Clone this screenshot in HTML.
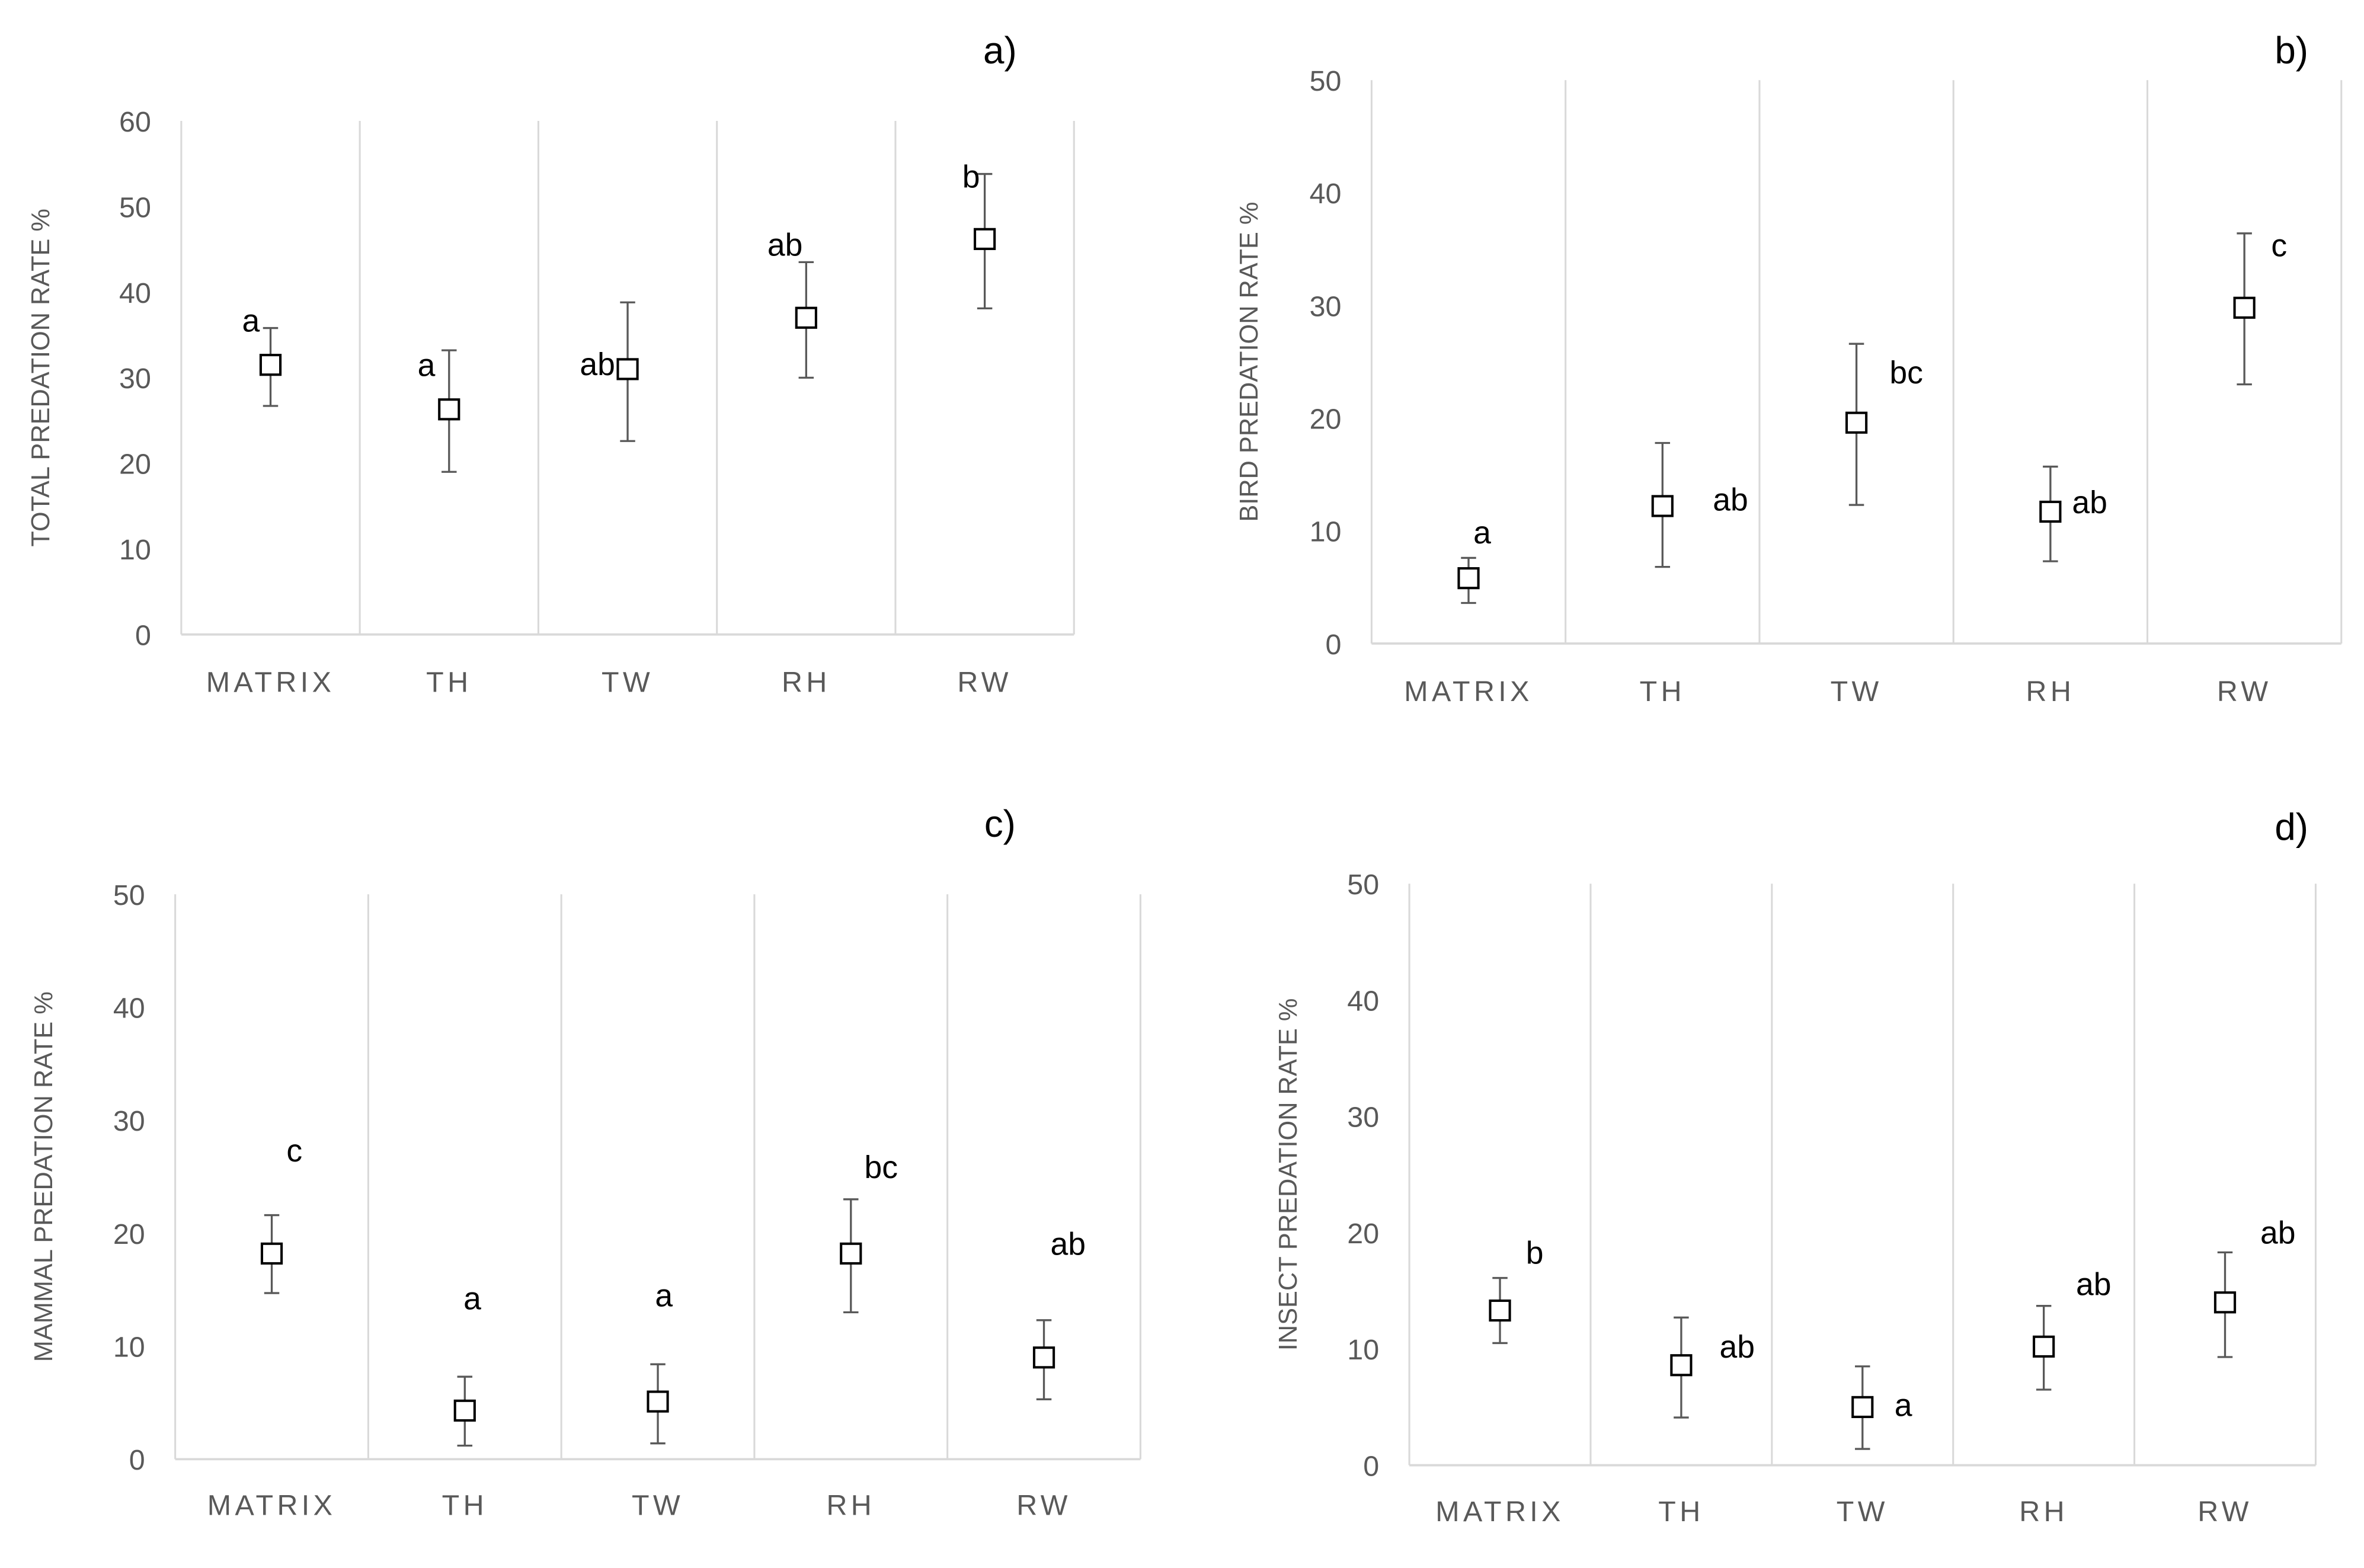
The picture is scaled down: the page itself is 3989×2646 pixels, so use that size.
<!DOCTYPE html>
<html><head><meta charset="utf-8"><style>
html,body{margin:0;padding:0;background:#fff;}
svg{display:block;}
text{font-family:"Liberation Sans",sans-serif;}
</style></head><body>
<svg id="fig" width="3989" height="2646" viewBox="0 0 1565 1038" xmlns="http://www.w3.org/2000/svg"></svg>
<script>
const categories = ["MATRIX","TH","TW","RH","RW"];
const totalMean = [31.5, 26.3, 31, 37, 46.2];
const totalLow  = [26.7, 19, 22.6, 30, 38.1];
const totalHigh = [35.8, 33.2, 38.8, 43.5, 53.8];
const totalLetters = ["a","a","ab","ab","b"];
const birdMean = [5.8, 12.2, 19.6, 11.7, 29.8];
const birdLow  = [3.6, 6.8, 12.3, 7.3, 23];
const birdHigh = [7.6, 17.8, 26.6, 15.7, 36.4];
const birdLetters = ["a","ab","bc","ab","c"];
const mammalMean = [18.2, 4.3, 5.1, 18.2, 9];
const mammalLow  = [14.7, 1.2, 1.4, 13, 5.3];
const mammalHigh = [21.6, 7.3, 8.4, 23, 12.3];
const mammalLetters = ["c","a","a","bc","ab"];
const insectMean = [13.3, 8.6, 5, 10.2, 14];
const insectLow  = [10.5, 4.1, 1.4, 6.5, 9.3];
const insectHigh = [16.1, 12.7, 8.5, 13.7, 18.3];
const insectLetters = ["b","ab","a","ab","ab"];
const ticksA = [0,10,20,30,40,50,60];
const ticksB = [0,10,20,30,40,50];

const NS="http://www.w3.org/2000/svg";
const svg=document.getElementById('fig');
function mk(tag,attrs,parent){const e=document.createElementNS(NS,tag);for(const k in attrs)e.setAttribute(k,attrs[k]);(parent||svg).appendChild(e);return e;}

const panels=[
 {id:"total",title:"TOTAL PREDATION RATE %",lab:"a)",L:120,R:711,B:420,T:80,max:60,ticks:ticksA,mean:totalMean,low:totalLow,high:totalHigh,letters:totalLetters,
  lpos:[[-13,-22],[-15,-22],[-20,4],[-14,-41],[-9,-34]],labX:662,labY:42,ytx:28,catY:458},
 {id:"bird",title:"BIRD PREDATION RATE %",lab:"b)",L:908,R:1550,B:426,T:53,max:50,ticks:ticksB,mean:birdMean,low:birdLow,high:birdHigh,letters:birdLetters,
  lpos:[[9,-23],[45,3],[33,-26],[26,1],[23,-34]],labX:1517,labY:42,ytx:828,catY:464},
 {id:"mammal",title:"MAMMAL PREDATION RATE %",lab:"c)",L:116,R:755,B:966,T:592,max:50,ticks:ticksB,mean:mammalMean,low:mammalLow,high:mammalHigh,letters:mammalLetters,
  lpos:[[15,-61],[5,-67],[4,-63],[20,-50],[16,-68]],labX:662,labY:554,ytx:30,catY:1003},
 {id:"insect",title:"INSECT PREDATION RATE %",lab:"d)",L:933,R:1533,B:970,T:585,max:50,ticks:ticksB,mean:insectMean,low:insectLow,high:insectHigh,letters:insectLetters,
  lpos:[[23,-31],[37,-5],[27,6],[33,-34],[35,-39]],labX:1517,labY:556,ytx:854,catY:1007}
];

panels.forEach(p=>{
  const g=mk('g',{});
  
  
  const n=categories.length, bw=(p.R-p.L)/n;
  const y=v=>p.B-(v/p.max)*(p.B-p.T);
  const x=i=>p.L+bw*(i+0.5);
  for(let i=0;i<=n;i++){
    const l=mk('line',{x1:p.L+bw*i,x2:p.L+bw*i,y1:p.T,y2:p.B,stroke:'#d9d9d9','stroke-width':1.2},g);
    
    
  }
  const ax=mk('line',{x1:p.L,x2:p.R,y1:p.B,y2:p.B,stroke:'#d9d9d9','stroke-width':1.5},g);
  
  
  p.ticks.forEach(t=>{
    const tx=mk('text',{x:p.L-20,y:y(t)+7,'text-anchor':'end','font-size':19,fill:'#595959'},g);
    tx.textContent=t;
    
    
  });
  const yt=mk('text',{x:p.ytx,y:(p.T+p.B)/2,'text-anchor':'middle','font-size':17,fill:'#595959',transform:`rotate(-90 ${p.ytx} ${(p.T+p.B)/2})`,'dominant-baseline':'middle'},g);
  yt.textContent=p.title;
  
  
  const lb=mk('text',{x:p.labX,y:p.labY,'text-anchor':'middle','font-size':25,fill:'#000'},g);
  lb.textContent=p.lab;
  
  
  categories.forEach((c,i)=>{
    const ct=mk('text',{x:x(i),y:p.catY,'text-anchor':'middle','font-size':19,fill:'#595959','letter-spacing':2.5},g);
    ct.textContent=c;
    
    
    const cx=x(i), yl=y(p.low[i]), yh=y(p.high[i]), ym=y(p.mean[i]);
    const eb=mk('path',{d:`M${cx},${yl}V${yh}M${cx-5},${yl}H${cx+5}M${cx-5},${yh}H${cx+5}`,stroke:'#595959','stroke-width':1.3,fill:'none'},g);
    
    
    const sq=mk('rect',{x:cx-6.5,y:ym-6.5,width:13,height:13,fill:'#fff',stroke:'#000','stroke-width':1.6},g);
    
    
    const lt=mk('text',{x:cx+p.lpos[i][0],y:ym+p.lpos[i][1],'text-anchor':'middle','font-size':21,fill:'#000'},g);
    lt.textContent=p.letters[i];
    
    
  });
});
</script>
</body></html>
